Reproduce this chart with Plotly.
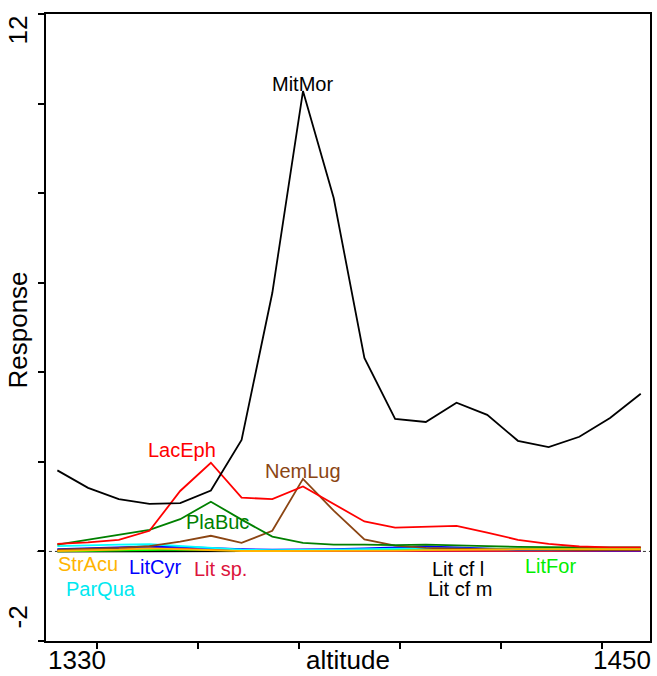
import plotly.graph_objects as go

altitude = [1320.5, 1327.8, 1335.1, 1342.4, 1349.7, 1357.0, 1364.3, 1371.6, 1378.9, 1386.2,
            1393.5, 1400.8, 1408.1, 1415.4, 1422.7, 1430.0, 1437.3, 1444.6, 1451.9, 1459.2]

MitMor = [1.81, 1.42, 1.17, 1.06, 1.08, 1.36, 2.49, 5.77, 10.28, 7.89,
          4.32, 2.96, 2.89, 3.32, 3.05, 2.47, 2.33, 2.56, 2.98, 3.52]
LacEph = [0.17, 0.20, 0.26, 0.46, 1.35, 1.98, 1.20, 1.17, 1.45, 1.06,
          0.67, 0.53, 0.55, 0.57, 0.42, 0.26, 0.17, 0.11, 0.09, 0.09]
PlaBuc = [0.15, 0.26, 0.37, 0.48, 0.72, 1.11, 0.71, 0.33, 0.19, 0.15,
          0.15, 0.14, 0.15, 0.14, 0.12, 0.10, 0.09, 0.09, 0.09, 0.09]
NemLug = [0.04, 0.06, 0.08, 0.12, 0.22, 0.35, 0.19, 0.46, 1.62, 0.91,
          0.27, 0.13, 0.08, 0.06, 0.05, 0.04, 0.03, 0.03, 0.03, 0.03]
LitCyr = [0.05, 0.07, 0.09, 0.11, 0.10, 0.07, 0.05, 0.04, 0.04, 0.05,
          0.07, 0.09, 0.11, 0.09, 0.06, 0.04, 0.03, 0.02, 0.02, 0.02]
ParQua = [0.12, 0.14, 0.15, 0.16, 0.12, 0.07, 0.04, 0.03, 0.03, 0.04,
          0.05, 0.06, 0.07, 0.06, 0.05, 0.04, 0.04, 0.04, 0.04, 0.04]
StrAcu = [0.01, 0.02, 0.04, 0.07, 0.05, 0.02, 0.01, 0.01, 0.01, 0.01,
          0.02, 0.02, 0.03, 0.03, 0.04, 0.05, 0.05, 0.05, 0.05, 0.05]
LitSp = [0.02, 0.03, 0.05, 0.08, 0.07, 0.04, 0.02, 0.01, 0.01, 0.01,
         0.01, 0.01, 0.01, 0.01, 0.01, 0.01, 0.01, 0.01, 0.01, 0.01]
LitFor = [0.00, 0.01, 0.02, 0.03, 0.04, 0.03, 0.02, 0.02, 0.02, 0.03,
          0.04, 0.05, 0.06, 0.06, 0.06, 0.07, 0.07, 0.07, 0.07, 0.07]
LitCfL = [0.00, 0.00, 0.01, 0.01, 0.01, 0.01, 0.01, 0.01, 0.02, 0.02,
          0.02, 0.03, 0.03, 0.03, 0.02, 0.02, 0.01, 0.01, 0.01, 0.01]
LitCfM = [0.00, 0.00, 0.00, 0.01, 0.01, 0.01, 0.01, 0.01, 0.01, 0.01,
          0.02, 0.02, 0.02, 0.02, 0.02, 0.01, 0.01, 0.01, 0.01, 0.01]

# series: name, values, line colour, label colour, label position (x, y)
series = [
    ("Lit cf l", LitCfL, "#000000", "#000000", (1415.8, -0.39)),
    ("Lit cf m", LitCfM, "#000000", "#000000", (1416.3, -0.83)),
    ("LitFor", LitFor, "#00ff00", "#00ee00", (1437.8, -0.32)),
    ("Lit sp.", LitSp, "#dc143c", "#dc143c", (1359.2, -0.39)),
    ("LitCyr", LitCyr, "#0000ff", "#0000ff", (1343.8, -0.34)),
    ("ParQua", ParQua, "#00ffff", "#00e8f0", (1330.8, -0.83)),
    ("NemLug", NemLug, "#8b4513", "#8b4513", (1378.9, 1.80)),
    ("PlaBuc", PlaBuc, "#008000", "#008000", (1358.5, 0.66)),
    ("LacEph", LacEph, "#ff0000", "#ff0000", (1350.2, 2.27)),
    ("MitMor", MitMor, "#000000", "#000000", (1378.9, 10.43)),
    ("StrAcu", StrAcu, "#ffb400", "#ffb400", (1327.9, -0.28)),
]

x_range = [1317.8, 1461.4]
y_range = [-2, 12]
x_ticks = [1330, 1354, 1378, 1402, 1426, 1450]
y_ticks = [-2, 0, 2, 4, 6, 8, 10, 12]

fig = go.Figure()
for name, vals, col, lcol, pos in series:
    fig.add_trace(go.Scatter(x=altitude, y=vals, mode="lines", name=name,
                             line=dict(color=col, width=1.8), showlegend=False))

font_fam = "Liberation Sans, Arial, sans-serif"
annotations = []
for name, vals, col, lcol, pos in series:
    annotations.append(dict(x=pos[0], y=pos[1], xref="x", yref="y", text=name,
                            showarrow=False, xanchor="center", yanchor="middle",
                            font=dict(family=font_fam, size=20, color=lcol)))

ax_font = dict(family=font_fam, size=26, color="#000000")
annotations += [
    dict(x=0, y=0, xref="paper", yref="paper", text="1330", showarrow=False,
         xanchor="left", yanchor="top", xshift=0, yshift=-2, font=ax_font),
    dict(x=1, y=0, xref="paper", yref="paper", text="1450", showarrow=False,
         xanchor="right", yanchor="top", xshift=3, yshift=-2, font=ax_font),
    dict(x=0.5, y=0, xref="paper", yref="paper", text="altitude", showarrow=False,
         xanchor="center", yanchor="top", yshift=-2, font=ax_font),
    dict(x=0, y=1, xref="paper", yref="paper", text="12", showarrow=False, textangle=-90,
         xanchor="right", yanchor="top", xshift=-12, yshift=0, font=ax_font),
    dict(x=0, y=0, xref="paper", yref="paper", text="-2", showarrow=False, textangle=-90,
         xanchor="right", yanchor="bottom", xshift=-12, yshift=10, font=ax_font),
    dict(x=0, y=0.5, xref="paper", yref="paper", text="Response", showarrow=False, textangle=-90,
         xanchor="right", yanchor="middle", xshift=-12, yshift=-3, font=ax_font),
]

fig.update_layout(
    width=657, height=676,
    margin=dict(l=46, r=5, t=14, b=35),
    paper_bgcolor="white", plot_bgcolor="white",
    annotations=annotations,
    shapes=[dict(type="line", xref="paper", yref="y", x0=-0.015, x1=1.0, y0=0, y1=0,
                 line=dict(color="#333333", width=1, dash="3px,3px"), layer="below")],
)
fig.update_xaxes(range=x_range, tickvals=x_ticks, showticklabels=False, ticks="outside",
                 ticklen=6, tickwidth=1.5, tickcolor="black", showline=True, linecolor="black",
                 linewidth=1.8, mirror=True, showgrid=False, zeroline=False)
fig.update_yaxes(range=y_range, tickvals=y_ticks, showticklabels=False, ticks="outside",
                 ticklen=6, tickwidth=1.5, tickcolor="black", showline=True, linecolor="black",
                 linewidth=1.8, mirror=True, showgrid=False, zeroline=False)

fig.write_html("out.html")
